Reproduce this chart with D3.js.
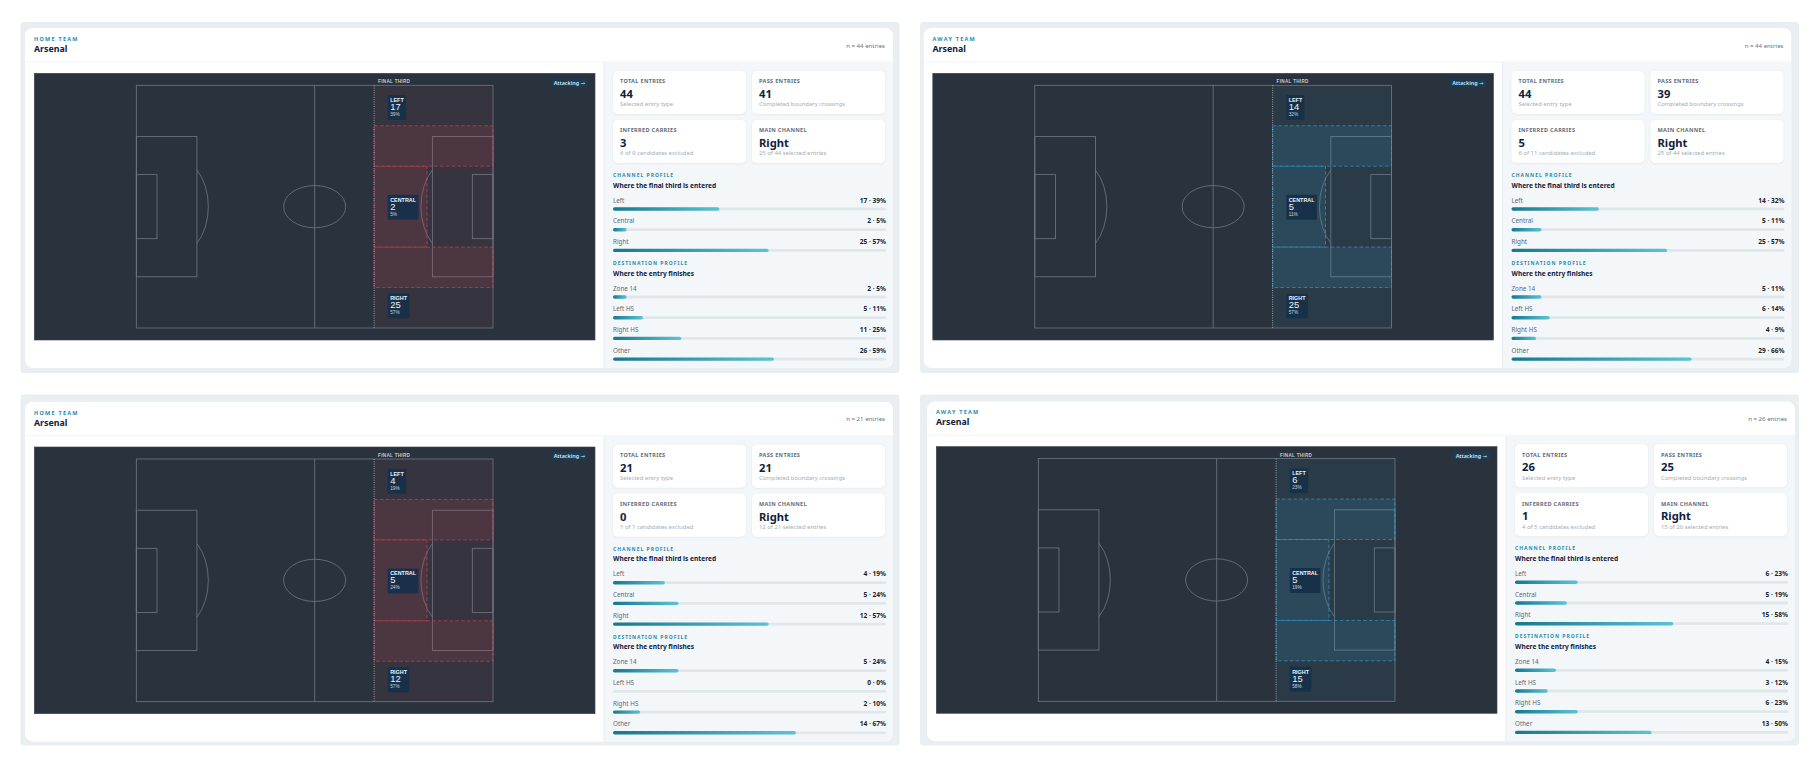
<!DOCTYPE html>
<html>
<head>
<meta charset="utf-8">
<script src="https://cdn.jsdelivr.net/npm/d3@7"></script>
<style>
  body { margin: 0; background: #ffffff; }
  svg { display: block; font-family: "Noto Sans", "Open Sans", sans-serif; }
</style>
</head>
<body>
<svg id="chart" width="1820" height="768"></svg>
<script>
// ---- data ----
const teamSides = ["HOME TEAM", "AWAY TEAM", "HOME TEAM", "AWAY TEAM"];
const teamNames = ["Arsenal", "Arsenal", "Arsenal", "Arsenal"];
const totalEntries = [44, 44, 21, 26];
const passEntries = [41, 39, 21, 25];
const inferredCarries = [3, 5, 0, 1];
const carriesExcluded = [6, 6, 1, 4];
const carryCandidates = [9, 11, 1, 5];
const mainChannel = ["Right", "Right", "Right", "Right"];

const channelLabels = ["Left", "Central", "Right"];
const channelCounts = [
    [17, 2, 25],
    [14, 5, 25],
    [4, 5, 12],
    [6, 5, 15]
];
const destLabels = ["Zone 14", "Left HS", "Right HS", "Other"];
const destCounts = [
    [2, 5, 11, 26],
    [5, 6, 4, 29],
    [5, 0, 2, 14],
    [4, 3, 6, 13]
];

// pitch zones in 0-100 pitch units (left channel on top)
const laneEdges = [0, 16.67, 33.33, 66.67, 83.33, 100];
const finalThirdX = 66.67;
const zone14EndX = 81.5;

// ---- layout ----
const layout = {
    cards: [[25, 28], [923.5, 28], [25, 401.7], [927, 401.3]],
    frames: [[20.5, 22], [920, 22], [20.5, 394.5], [920, 394.5]],
    frameW: 879, frameH: 351,
    cardW: 868, cardH: 340,
    panel: { x: 9.3, y: 45.3, w: 560.7, h: 266.7 },
    pitchPad: { x: 102, y: 12 },
    side: { x: 579, y: 34 }
};
const colors = {
    home: "#cf4654",
    away: "#2fa3cf",
    panel: "#2a333d",
    line: "#6f7983",
    navy: "#10213a",
    teal: "#1c8db0",
    grey: "#5b6876",
    muted: "#9ba6b1",
    track: "#dfe7eb",
    sideBg: "#f4f7f9"
};

const svg = d3.select("#chart");
const defs = svg.append("defs");
const grad = defs.append("linearGradient").attr("id", "barGrad");
grad.append("stop").attr("offset", "0%").attr("stop-color", "#15788f");
grad.append("stop").attr("offset", "100%").attr("stop-color", "#5cc3d6");

const shadow = defs.append("filter").attr("id", "soft")
    .attr("x", "-10%").attr("y", "-10%").attr("width", "120%").attr("height", "130%");
shadow.append("feDropShadow").attr("dx", 0).attr("dy", 0.6)
    .attr("stdDeviation", 0.9).attr("flood-color", "#9fb0bf").attr("flood-opacity", 0.25);

layout.frames.forEach(([fx, fy]) => {
    svg.append("rect")
        .attr("x", fx).attr("y", fy)
        .attr("width", layout.frameW).attr("height", layout.frameH)
        .attr("rx", 3)
        .attr("fill", "#e9eef2");
});

teamSides.forEach((side, i) => drawCard(i));

function drawCard(i) {
    const [ox, oy] = layout.cards[i];
    const W = layout.cardW, H = layout.cardH;
    const g = svg.append("g").attr("transform", `translate(${ox},${oy})`);
    const teamColor = teamSides[i].startsWith("HOME") ? colors.home : colors.away;
    const total = totalEntries[i];
    const pct = v => Math.round(v / total * 100);

    defs.append("clipPath").attr("id", "clip" + i)
        .append("rect").attr("width", W).attr("height", H).attr("rx", 8);

    const body = g.append("g").attr("clip-path", `url(#clip${i})`);
    body.append("rect").attr("width", W).attr("height", H).attr("fill", "#fff");

    // header
    g.append("text").attr("x", 9).attr("y", 11)
        .attr("dominant-baseline", "central")
        .attr("font-size", 5.5).attr("font-weight", 700)
        .attr("letter-spacing", 1.25)
        .attr("fill", colors.teal)
        .text(teamSides[i]);
    g.append("text").attr("x", 9).attr("y", 21.2)
        .attr("dominant-baseline", "central")
        .attr("font-size", 8.8).attr("font-weight", 700)
        .attr("fill", colors.navy)
        .text(teamNames[i]);
    g.append("text").attr("x", W - 8).attr("y", 17)
        .attr("dominant-baseline", "central")
        .attr("text-anchor", "end")
        .attr("font-size", 6.1)
        .attr("fill", "#66727f")
        .text(`n = ${total} entries`);
    body.append("line")
        .attr("x1", 0).attr("x2", W).attr("y1", 34).attr("y2", 34)
        .attr("stroke", "#edf1f4").attr("stroke-width", 0.8);

    // side panel
    body.append("rect")
        .attr("x", layout.side.x).attr("y", layout.side.y)
        .attr("width", W - layout.side.x).attr("height", H - layout.side.y)
        .attr("fill", colors.sideBg);
    body.append("line")
        .attr("x1", layout.side.x).attr("x2", layout.side.x)
        .attr("y1", layout.side.y).attr("y2", H)
        .attr("stroke", "#e4eaef").attr("stroke-width", 0.8);

    drawPitch(g, i, teamColor, pct);
    drawStats(g, i);
    drawProfiles(g, i, pct);
}

function drawPitch(g, i, teamColor, pct) {
    const p = layout.panel;
    g.append("rect")
        .attr("x", p.x).attr("y", p.y).attr("width", p.w).attr("height", p.h)
        .attr("fill", colors.panel)
        .attr("stroke", "#3b444e").attr("stroke-width", 0.6);

    const x = d3.scaleLinear().domain([0, 100])
        .range([p.x + layout.pitchPad.x, p.x + p.w - layout.pitchPad.x]);
    const y = d3.scaleLinear().domain([0, 100])
        .range([p.y + layout.pitchPad.y, p.y + p.h - layout.pitchPad.y]);
    const pg = g.append("g");
    const lineStyle = s => s.attr("fill", "none")
        .attr("stroke", colors.line).attr("stroke-width", 0.8);

    const boxRect = (x0, x1, y0, y1) => pg.append("rect")
        .attr("x", x(x0)).attr("y", y(y0))
        .attr("width", x(x1) - x(x0)).attr("height", y(y1) - y(y0))
        .call(lineStyle);

    boxRect(0, 100, 0, 100);
    pg.append("line").attr("x1", x(50)).attr("x2", x(50))
        .attr("y1", y(0)).attr("y2", y(100)).call(lineStyle);
    pg.append("ellipse")
        .attr("cx", x(50)).attr("cy", y(50))
        .attr("rx", x(8.7) - x(0)).attr("ry", y(8.7) - y(0))
        .call(lineStyle);
    // penalty and six-yard boxes
    boxRect(0, 17, 21.1, 78.9);
    boxRect(83, 100, 21.1, 78.9);
    boxRect(0, 5.8, 36.8, 63.2);
    boxRect(94.2, 100, 36.8, 63.2);
    // penalty arcs
    const arcRx = x(8.7) - x(0), arcRy = y(19.5) - y(0);
    const arcDy = 15.1;
    pg.append("path")
        .attr("d", `M${x(17)},${y(50 - arcDy)} A${arcRx},${arcRy} 0 0 1 ${x(17)},${y(50 + arcDy)}`)
        .call(lineStyle);
    pg.append("path")
        .attr("d", `M${x(83)},${y(50 - arcDy)} A${arcRx},${arcRy} 0 0 0 ${x(83)},${y(50 + arcDy)}`)
        .call(lineStyle);

    // final third tint
    pg.append("rect")
        .attr("x", x(finalThirdX)).attr("y", y(0))
        .attr("width", x(100) - x(finalThirdX)).attr("height", y(100) - y(0))
        .attr("fill", teamColor).attr("fill-opacity", 0.07);

    // destination zones: left HS, zone 14, right HS
    const zones = [
        [finalThirdX, 100, laneEdges[1], laneEdges[2]],
        [finalThirdX, zone14EndX, laneEdges[2], laneEdges[3]],
        [finalThirdX, 100, laneEdges[3], laneEdges[4]]
    ];
    pg.selectAll(".zone").data(zones).join("rect")
        .attr("class", "zone")
        .attr("x", d => x(d[0])).attr("y", d => y(d[2]))
        .attr("width", d => x(d[1]) - x(d[0]))
        .attr("height", d => y(d[3]) - y(d[2]))
        .attr("fill", teamColor).attr("fill-opacity", 0.14)
        .attr("stroke", teamColor).attr("stroke-opacity", 0.75)
        .attr("stroke-width", 0.85)
        .attr("stroke-dasharray", "3.6 2.2");

    // final third boundary
    pg.append("line")
        .attr("x1", x(finalThirdX)).attr("x2", x(finalThirdX))
        .attr("y1", y(0)).attr("y2", y(100))
        .attr("stroke", "#b7bfc7").attr("stroke-width", 0.8)
        .attr("stroke-dasharray", "1 1.3");
    pg.append("text")
        .attr("x", x(finalThirdX) + 4).attr("y", y(0) - 3.4)
        .attr("dominant-baseline", "central")
        .attr("font-family", "Liberation Sans, Arial, sans-serif")
        .attr("font-size", 4.6).attr("font-weight", 700)
        .attr("letter-spacing", 0.3)
        .attr("fill", "#c3cad1")
        .text("FINAL THIRD");

    // attacking badge
    const badge = pg.append("g")
        .attr("transform", `translate(${p.x + p.w - 7.6},${p.y + 5})`);
    const bt = badge.append("text")
        .attr("x", -2.4).attr("y", 4.3)
        .attr("dominant-baseline", "central")
        .attr("text-anchor", "end")
        .attr("font-size", 5.4).attr("font-weight", 600)
        .attr("fill", "#d8e6f1");
    bt.append("tspan").text("Attacking ");
    bt.append("tspan").attr("font-family", "DejaVu Sans").attr("font-weight", 400).text("\u2192");
    const bw = bt.node().getComputedTextLength() + 4.8;
    badge.insert("rect", "text")
        .attr("x", -bw).attr("y", 0).attr("width", bw).attr("height", 8.6)
        .attr("rx", 1).attr("fill", "#1b3a56");

    // channel labels
    const laneMid = [
        (laneEdges[0] + laneEdges[1]) / 2,
        (laneEdges[2] + laneEdges[3]) / 2,
        (laneEdges[4] + laneEdges[5]) / 2
    ];
    const nudge = [2, 0.6, -1.8];
    channelLabels.forEach((lab, k) => {
        const cy = y(laneMid[k]) + nudge[k];
        const lg = pg.append("g")
            .attr("transform", `translate(${x(finalThirdX) + 13.7},${cy - 12.5})`);
        const t1 = lg.append("text").attr("x", 2.4).attr("y", 4.8)
            .attr("dominant-baseline", "central")
            .attr("font-family", "Liberation Sans, Arial, sans-serif")
            .attr("font-size", 5.4).attr("font-weight", 700)
            .attr("fill", "#eef3f7")
            .text(lab.toUpperCase());
        lg.append("text").attr("x", 2.4).attr("y", 11.4)
            .attr("dominant-baseline", "central")
            .attr("font-family", "Liberation Sans, Arial, sans-serif")
            .attr("font-size", 9.4)
            .attr("fill", "#eef3f7")
            .text(channelCounts[i][k]);
        lg.append("text").attr("x", 2.4).attr("y", 19.3)
            .attr("dominant-baseline", "central")
            .attr("font-family", "Liberation Sans, Arial, sans-serif")
            .attr("font-size", 4.7)
            .attr("fill", "#c9d5df")
            .text(pct(channelCounts[i][k]) + "%");
        const w = t1.node().getComputedTextLength() + 4.8;
        lg.insert("rect", "text")
            .attr("width", Math.max(w, 17)).attr("height", 25)
            .attr("rx", 0.8).attr("fill", "#17304b").attr("fill-opacity", 0.95);
    });
}

function drawStats(g, i) {
    const cards = [
        { label: "TOTAL ENTRIES", value: totalEntries[i], sub: "Selected entry type" },
        { label: "PASS ENTRIES", value: passEntries[i], sub: "Completed boundary crossings" },
        { label: "INFERRED CARRIES", value: inferredCarries[i],
          sub: `${carriesExcluded[i]} of ${carryCandidates[i]} candidates excluded` },
        { label: "MAIN CHANNEL", value: mainChannel[i],
          sub: `${channelCounts[i][channelLabels.indexOf(mainChannel[i])]} of ${totalEntries[i]} selected entries` }
    ];
    const colX = [588, 727], rowY = [43, 92];
    cards.forEach((c, k) => {
        const cg = g.append("g")
            .attr("transform", `translate(${colX[k % 2]},${rowY[Math.floor(k / 2)]})`);
        cg.append("rect").attr("width", 133).attr("height", 43).attr("rx", 5)
            .attr("fill", "#fff").attr("filter", "url(#soft)");
        cg.append("text").attr("x", 7).attr("y", 10.3)
            .attr("dominant-baseline", "central")
            .attr("font-size", 5.5).attr("font-weight", 700)
            .attr("letter-spacing", 0.35)
            .attr("fill", "#5f6c79")
            .text(c.label);
        cg.append("text").attr("x", 7).attr("y", 22.4)
            .attr("dominant-baseline", "central")
            .attr("font-size", 11.2).attr("font-weight", 700)
            .attr("fill", colors.navy)
            .text(c.value);
        cg.append("text").attr("x", 7).attr("y", 33.3)
            .attr("dominant-baseline", "central")
            .attr("font-size", 5.9)
            .attr("fill", "#a3adb7")
            .text(c.sub);
    });
}

function drawProfiles(g, i, pct) {
    const barX = 588, barW = 273;
    const w = d3.scaleLinear().domain([0, 100]).range([0, barW]);
    const sections = [
        { title: "CHANNEL PROFILE", sub: "Where the final third is entered",
          top: 147, labels: channelLabels, counts: channelCounts[i] },
        { title: "DESTINATION PROFILE", sub: "Where the entry finishes",
          top: 235, labels: destLabels, counts: destCounts[i] }
    ];
    sections.forEach(s => {
        g.append("text").attr("x", barX).attr("y", s.top)
            .attr("dominant-baseline", "central")
            .attr("font-size", 5).attr("font-weight", 700)
            .attr("letter-spacing", 1.0)
            .attr("fill", colors.teal)
            .text(s.title);
        g.append("text").attr("x", barX).attr("y", s.top + 10)
            .attr("dominant-baseline", "central")
            .attr("font-size", 6.6).attr("font-weight", 700)
            .attr("fill", colors.navy)
            .text(s.sub);
        const rowY = d3.scalePoint().domain(s.labels)
            .range([s.top + 25, s.top + 25 + 20.7 * (s.labels.length - 1)]);
        const rows = g.append("g").selectAll("g").data(s.labels).join("g")
            .attr("transform", d => `translate(${barX},${rowY(d)})`);
        rows.append("text")
            .attr("dominant-baseline", "central")
            .attr("font-size", 6.3)
            .attr("fill", colors.grey)
            .text(d => d);
        rows.append("text")
            .attr("x", barW)
            .attr("dominant-baseline", "central")
            .attr("text-anchor", "end")
            .attr("font-size", 6.6).attr("font-weight", 700)
            .attr("fill", "#16222e")
            .text((d, k) => `${s.counts[k]} \u00b7 ${pct(s.counts[k])}%`);
        rows.append("rect")
            .attr("y", 7.6).attr("width", barW).attr("height", 2.8)
            .attr("rx", 1.4).attr("fill", colors.track);
        rows.append("rect")
            .attr("y", 7.3).attr("height", 3.4).attr("rx", 1.7)
            .attr("width", (d, k) => w(pct(s.counts[k])))
            .attr("fill", "url(#barGrad)");
    });
}
</script>
</body>
</html>
